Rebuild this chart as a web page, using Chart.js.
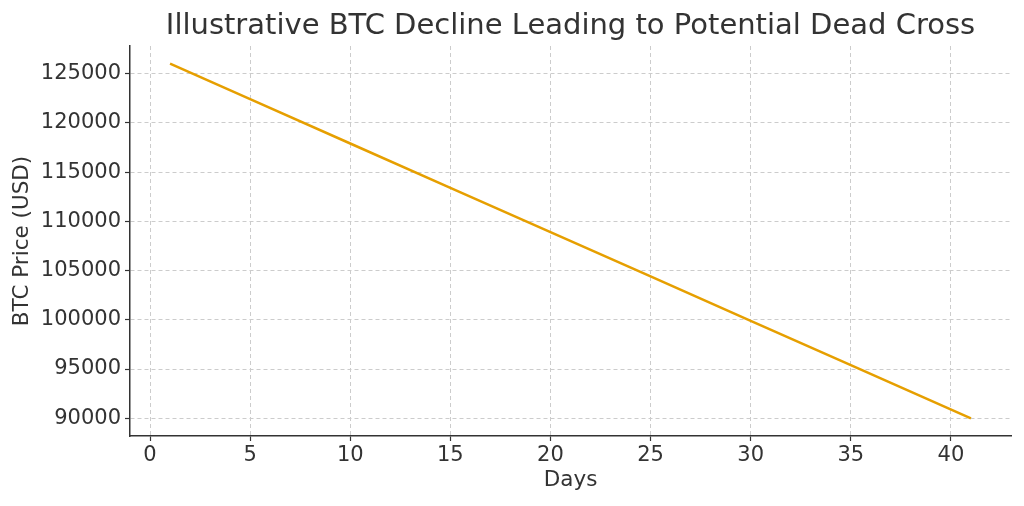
<!DOCTYPE html>
<html>
<head>
<meta charset="utf-8">
<script src="https://cdn.jsdelivr.net/npm/chart.js@4"></script>
<style>
  body { margin: 0; background: #fff; }
  canvas { display: block; }
</style>
</head>
<body>
<canvas id="myChart" width="1024" height="506"></canvas>
<script>
// values
const days = [1, 5, 10, 15, 20, 25, 30, 35, 41]
const prices = [126000, 122400, 117900, 113400, 108900, 104400, 99900, 95400, 90000]
const xTicks = [0, 5, 10, 15, 20, 25, 30, 35, 40]
const yTicks = [90000, 95000, 100000, 105000, 110000, 115000, 120000, 125000]

const points = days.map((d, i) => ({ x: d, y: prices[i] }))

const font = 'DejaVu Sans'
const textColor = '#333'

const printChart = () => {
  const ctx = document.getElementById('myChart').getContext('2d')
  new Chart(ctx, {
    type: 'line',
    data: {
      datasets: [
        {
          data: points,
          borderColor: '#E69F00',
          borderWidth: 2.5,
          pointRadius: 0,
          tension: 0,
          fill: false
        }
      ]
    },
    options: {
      responsive: false,
      animation: false,
      layout: { padding: { left: 0, right: 13, top: 0, bottom: 0 } },
      plugins: {
        legend: { display: false },
        tooltip: { enabled: false },
        title: {
          display: true,
          text: 'Illustrative BTC Decline Leading to Potential Dead Cross',
          fullSize: false,
          color: textColor,
          font: { family: font, size: 29, weight: 'normal' },
          padding: { top: 9, bottom: 2.2 }
        }
      },
      scales: {
        x: {
          type: 'linear',
          min: -1,
          max: 43,
          afterBuildTicks: scale => { scale.ticks = xTicks.map(v => ({ value: v })) },
          afterFit: scale => { scale.height = 70 },
          ticks: {
            color: textColor,
            font: { family: font, size: 21 },
            padding: 2,
            maxRotation: 0,
            callback: v => String(v)
          },
          grid: {
            color: '#cccccc',
            lineWidth: 1,
            tickLength: 5,
            tickColor: '#333',
            tickWidth: 1.2,
            tickBorderDash: []
          },
          border: { display: true, color: '#333', width: 1.5, dash: [4, 3] },
          title: {
            display: true,
            text: 'Days',
            color: textColor,
            font: { family: font, size: 21.5 },
            padding: { top: 1, bottom: 13 }
          }
        },
        y: {
          min: 88200,
          max: 127800,
          afterBuildTicks: scale => { scale.ticks = yTicks.map(v => ({ value: v })) },
          afterFit: scale => { scale.width = 130 },
          ticks: {
            color: textColor,
            font: { family: font, size: 21 },
            padding: 4,
            callback: v => String(v)
          },
          grid: {
            color: '#cccccc',
            lineWidth: 1,
            tickLength: 5,
            tickColor: '#333',
            tickWidth: 1.2,
            tickBorderDash: []
          },
          border: { display: true, color: '#333', width: 1.5, dash: [4, 3] },
          title: {
            display: true,
            text: 'BTC Price (USD)',
            color: textColor,
            font: { family: font, size: 21.5 },
            padding: { top: 10, bottom: 0 }
          }
        }
      }
    }
  })
}

printChart()
</script>
</body>
</html>
